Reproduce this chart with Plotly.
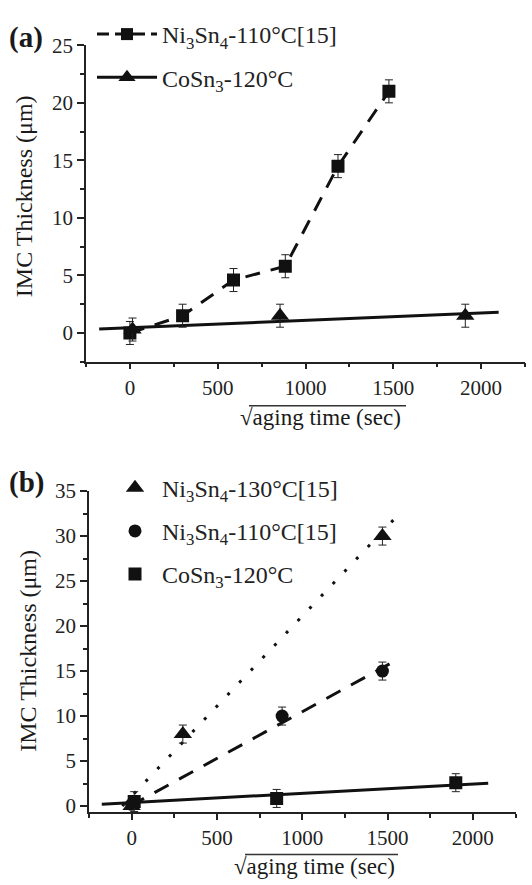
import plotly.graph_objects as go

FONT = "Times New Roman, Liberation Serif, Times, serif"
W, H = 532, 885

# ---------------- Panel (a) data ----------------
a_ni110_x = [0, 300, 590, 885, 1185, 1475]
a_ni110_y = [0, 1.5, 4.6, 5.8, 14.5, 21.0]
a_ni110_err = [1, 1, 1, 1, 1, 1]

a_co120_x = [15, 855, 1910]
a_co120_y = [0.3, 1.5, 1.5]
a_co120_err = [1, 1, 1]
a_co120_fit_x = [-175, 2100]
a_co120_fit_y = [0.35, 1.8]

# ---------------- Panel (b) data ----------------
b_ni130_x = [0, 300, 1470]
b_ni130_y = [0, 8.0, 30.0]
b_ni130_err = [0, 1, 1]
b_ni130_fit_x = [-55, 1570]
b_ni130_fit_y = [0.0, 32.5]

b_ni110_x = [0, 882, 1470]
b_ni110_y = [0.2, 10.0, 15.0]
b_ni110_err = [0, 1, 1]
b_ni110_fit_x = [-10, 1570]
b_ni110_fit_y = [0.0, 16.4]

b_co120_x = [15, 850, 1900]
b_co120_y = [0.5, 0.85, 2.6]
b_co120_err = [1.1, 1, 1]
b_co120_fit_x = [-175, 2090]
b_co120_fit_y = [0.2, 2.55]

x_ticks = [0, 500, 1000, 1500, 2000]
a_y_ticks = [0, 5, 10, 15, 20, 25]
b_y_ticks = [0, 5, 10, 15, 20, 25, 30, 35]

lab_ni110 = "Ni<sub>3</sub>Sn<sub>4</sub>-110°C[15]"
lab_ni130 = "Ni<sub>3</sub>Sn<sub>4</sub>-130°C[15]"
lab_co120 = "CoSn<sub>3</sub>-120°C"

BLACK = "#111111"
err_style = dict(type="data", visible=True, color="#222222", thickness=1, width=4)

fig = go.Figure()

# ---- panel (a) traces ----
fig.add_trace(go.Scatter(
    x=a_co120_fit_x, y=a_co120_fit_y, mode="lines",
    line=dict(color=BLACK, width=3), showlegend=False, xaxis="x", yaxis="y"))
fig.add_trace(go.Scatter(
    x=a_ni110_x, y=a_ni110_y, mode="lines+markers",
    line=dict(color=BLACK, width=3, dash="15px,11px"),
    marker=dict(symbol="square", size=13, color=BLACK),
    error_y=dict(array=a_ni110_err, **err_style),
    showlegend=False, xaxis="x", yaxis="y"))
fig.add_trace(go.Scatter(
    x=a_co120_x, y=a_co120_y, mode="markers",
    marker=dict(symbol="triangle-up", size=16, color=BLACK),
    error_y=dict(array=a_co120_err, **err_style),
    showlegend=False, xaxis="x", yaxis="y"))
# legend entries (a)
fig.add_trace(go.Scatter(
    x=[None], y=[None], mode="lines+markers", name=lab_ni110,
    line=dict(color=BLACK, width=3, dash="12px,6px"),
    marker=dict(symbol="square", size=12, color=BLACK),
    legend="legend", legendgroup="a1", xaxis="x", yaxis="y"))
fig.add_trace(go.Scatter(
    x=[None], y=[None], mode="lines+markers", name=lab_co120,
    line=dict(color=BLACK, width=3),
    marker=dict(symbol="triangle-up", size=15, color=BLACK),
    legend="legend", legendgroup="a2", xaxis="x", yaxis="y"))

# ---- panel (b) traces ----
fig.add_trace(go.Scatter(
    x=b_ni130_fit_x, y=b_ni130_fit_y, mode="lines",
    line=dict(color=BLACK, width=3, dash="3px,14px"),
    showlegend=False, xaxis="x2", yaxis="y2"))
fig.add_trace(go.Scatter(
    x=b_ni110_fit_x, y=b_ni110_fit_y, mode="lines",
    line=dict(color=BLACK, width=3, dash="16px,12px"),
    showlegend=False, xaxis="x2", yaxis="y2"))
fig.add_trace(go.Scatter(
    x=b_co120_fit_x, y=b_co120_fit_y, mode="lines",
    line=dict(color=BLACK, width=3),
    showlegend=False, xaxis="x2", yaxis="y2"))
fig.add_trace(go.Scatter(
    x=b_ni130_x, y=b_ni130_y, mode="markers", name=lab_ni130,
    marker=dict(symbol="triangle-up", size=16, color=BLACK),
    error_y=dict(array=b_ni130_err, **err_style),
    legend="legend2", legendgroup="b1", xaxis="x2", yaxis="y2"))
fig.add_trace(go.Scatter(
    x=b_ni110_x, y=b_ni110_y, mode="markers", name=lab_ni110,
    marker=dict(symbol="circle", size=13, color=BLACK),
    error_y=dict(array=b_ni110_err, **err_style),
    legend="legend2", legendgroup="b2", xaxis="x2", yaxis="y2"))
fig.add_trace(go.Scatter(
    x=b_co120_x, y=b_co120_y, mode="markers", name=lab_co120,
    marker=dict(symbol="square", size=13, color=BLACK),
    error_y=dict(array=b_co120_err, **err_style),
    legend="legend2", legendgroup="b3", xaxis="x2", yaxis="y2"))

def px_x(p):
    return p / W

def px_y(p):
    return 1 - p / H

tickfont = dict(family=FONT, size=21, color="#222222")
common_x = dict(
    showline=True, linecolor="#222222", linewidth=1.5, ticks="outside",
    ticklen=6, tickwidth=1.5, tickcolor="#222222", tickfont=tickfont,
    tickvals=x_ticks, showgrid=False, zeroline=False,
    minor=dict(ticks="outside", ticklen=4, tickwidth=1.5, tickcolor="#222222", dtick=250, showgrid=False),
)
common_y = dict(
    showline=True, linecolor="#222222", linewidth=1.5, ticks="outside",
    ticklen=7, tickwidth=1.5, tickcolor="#222222", tickfont=tickfont,
    showgrid=False, zeroline=False,
)

fig.update_layout(
    width=W, height=H,
    margin=dict(l=0, r=0, t=0, b=0),
    paper_bgcolor="white", plot_bgcolor="white",
    font=dict(family=FONT, color="#222222"),
    xaxis=dict(domain=[px_x(86), px_x(525)], range=[-250, 2250], anchor="y", **common_x),
    yaxis=dict(domain=[px_y(357), px_y(34)], range=[-2.5, 25], anchor="x",
               tickvals=a_y_ticks,
               minor=dict(ticks="outside", ticklen=4, tickwidth=1.5, tickcolor="#222222", dtick=2.5),
               **common_y),
    xaxis2=dict(domain=[px_x(89), px_x(515.5)], range=[-250, 2250], anchor="y2", **common_x),
    yaxis2=dict(domain=[px_y(817), px_y(489)], range=[-0.7, 35], anchor="x2",
                tickvals=b_y_ticks,
                minor=dict(ticks="outside", ticklen=4, tickwidth=1.5, tickcolor="#222222", dtick=2.5),
                **common_y),
    legend=dict(x=px_x(92), y=px_y(0), xanchor="left", yanchor="top",
                bgcolor="rgba(0,0,0,0)", font=dict(family=FONT, size=24, color="#222222"),
                tracegroupgap=9, itemwidth=60, traceorder="grouped"),
    legend2=dict(x=px_x(108), y=px_y(463), xanchor="left", yanchor="top",
                 bgcolor="rgba(0,0,0,0)", font=dict(family=FONT, size=24, color="#222222"),
                 tracegroupgap=9, itemwidth=44, traceorder="grouped"),
)

annos = [
    dict(text="<b>(a)</b>", x=px_x(26), y=px_y(26)),
    dict(text="<b>(b)</b>", x=px_x(26), y=px_y(480)),
    dict(text="IMC Thickness (μm)", x=px_x(24), y=px_y(188), textangle=-90),
    dict(text="IMC Thickness (μm)", x=px_x(28), y=px_y(652), textangle=-90),
    dict(text="√aging time (sec)", x=px_x(320), y=px_y(414)),
    dict(text="√aging time (sec)", x=px_x(314), y=px_y(872)),
]
for an in annos:
    if "(a)" in an["text"] or "(b)" in an["text"]:
        size = 29
    elif "IMC" in an["text"]:
        size = 24
    else:
        size = 23
    fig.add_annotation(xref="paper", yref="paper", showarrow=False,
                       xanchor="center", yanchor="middle",
                       font=dict(family=FONT, size=size, color="#1a1a1a"), **an)

# overlines of the square-root sign
for (x0, x1, yy) in [(249, 406, 402), (245, 398, 860)]:
    fig.add_shape(type="line", xref="paper", yref="paper",
                  x0=px_x(x0), x1=px_x(x1), y0=px_y(yy), y1=px_y(yy),
                  line=dict(color="#333333", width=1.5))

fig.write_html("out.html")
